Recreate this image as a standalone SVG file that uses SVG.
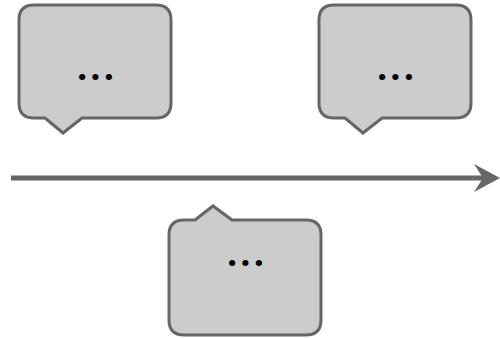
<svg xmlns="http://www.w3.org/2000/svg" width="500" height="338" viewBox="0 0 500 338">
<defs>
<style>
.b{fill:#cccccc;stroke:#666666;stroke-width:3;stroke-linejoin:miter}
.t{font-family:"Open Sans",sans-serif;font-weight:bold;font-size:36px;fill:#000;text-anchor:middle;letter-spacing:3px}
</style>
<marker id="ah" markerUnits="userSpaceOnUse" markerWidth="30" markerHeight="30" refX="9" refY="14" orient="auto">
<path d="M0,0 L26,14 L0,28 L9,14 Z" fill="#666666"/>
</marker>
</defs>
<g id="connectors">
<line x1="11" y1="178" x2="483" y2="178" stroke="#666666" stroke-width="5" marker-end="url(#ah)"/>
</g>
<g id="node1">
<path class="b" d="M34,5 H156 Q171,5 171,20 V103 Q171,118 156,118 H82 L63,133 L45,118 H34 Q19,118 19,103 V20 Q19,5 34,5 Z"/>
<text class="t" x="97" y="80">...</text>
</g>
<g id="node2">
<path class="b" d="M334,5 H456 Q471,5 471,20 V103 Q471,118 456,118 H382 L363,133 L345,118 H334 Q319,118 319,103 V20 Q319,5 334,5 Z"/>
<text class="t" x="397" y="80">...</text>
</g>
<g id="node3">
<path class="b" d="M184,220 H195 L213,206 L232,220 H306 Q321,220 321,235 V320 Q321,335 306,335 H184 Q169,335 169,320 V235 Q169,220 184,220 Z"/>
<text class="t" x="247" y="266">...</text>
</g>
</svg>
